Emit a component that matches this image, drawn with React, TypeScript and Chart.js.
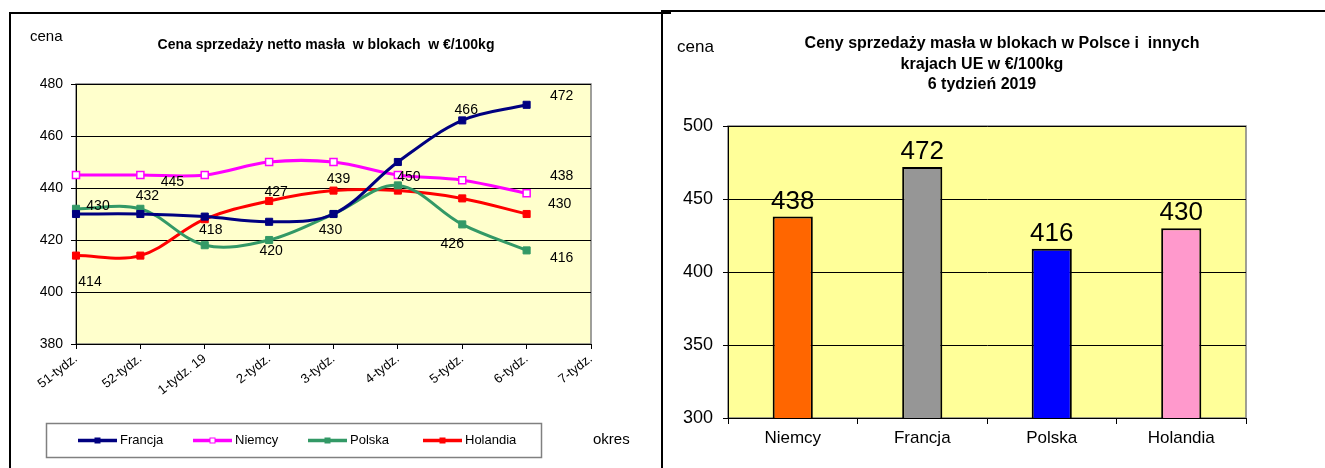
import React, { useEffect, useRef } from "react";
import { Chart, registerables } from "chart.js";

Chart.register(...registerables);
Chart.defaults.color = "#000";

const FONT = "'Liberation Sans', Arial, sans-serif";

// ---- Left chart data ----
const weeks = ["51-tydz.", "52-tydz.", "1-tydz. 19", "2-tydz.", "3-tydz.", "4-tydz.", "5-tydz.", "6-tydz.", "7-tydz."];
const seriesNames = ["Francja", "Niemcy", "Polska", "Holandia"];
const francja = [430, 430, 429, 427, 430, 450, 466, 472];
const niemcy = [445, 445, 445, 450, 450, 445, 443, 438];
const polska = [432, 432, 418, 420, 430, 441, 426, 416];
const holandia = [414, 414, 428, 435, 439, 439, 436, 430];
const lineYMin = 380;
const lineYMax = 480;
const lineYStep = 20;

// ---- Right chart data ----
const countries = ["Niemcy", "Francja", "Polska", "Holandia"];
const week6 = [438, 472, 416, 430];
const barYMin = 300;
const barYMax = 500;
const barYStep = 50;

// label placement (style): [pointIndex, dx, dy]
const lineLabelPlacement: Record<string, Array<[number, number, number]>> = {
  Francja: [[0, 22, -8], [3, 7, -30], [4, -3, 16], [5, 11, 15], [6, 4, -10], [7, 35, -9]],
  Niemcy: [[1, 32, 7], [7, 35, -17]],
  Polska: [[1, 7, -13], [2, 6, -15], [3, 2, 11], [6, -10, 20], [7, 35, 8]],
  Holandia: [[0, 14, 27], [4, 5, -11], [7, 33, -10]],
};

const plotBg = {
  id: "plotBg",
  beforeDraw(chart: any, _a: any, opts: any) {
    const { ctx, chartArea } = chart;
    const { left, top, right, bottom } = chartArea;
    ctx.save();
    ctx.fillStyle = opts.color;
    ctx.fillRect(left, top, right - left, bottom - top);
    ctx.strokeStyle = "#808080";
    ctx.lineWidth = 1.5;
    ctx.strokeRect(left, top, right - left, bottom - top);
    ctx.restore();
  },
};

const leftDecor = {
  id: "leftDecor",
  afterDatasetsDraw(chart: any) {
    const { ctx } = chart;
    ctx.save();
    ctx.fillStyle = "#000";
    ctx.textAlign = "center";
    ctx.textBaseline = "middle";
    chart.data.datasets.forEach((ds: any, di: number) => {
      const meta = chart.getDatasetMeta(di);
      const place = lineLabelPlacement[ds.label] || [];
      ctx.font = `14px ${FONT}`;
      place.forEach(([i, dx, dy]) => {
        const pt = meta.data[i];
        if (!pt) return;
        ctx.fillText(String(ds.data[i]), pt.x + dx, pt.y + dy);
      });
    });
    ctx.restore();
  },
  afterDraw(chart: any) {
    const { ctx } = chart;
    ctx.save();
    ctx.fillStyle = "#000";
    ctx.textBaseline = "middle";
    ctx.font = `15px ${FONT}`;
    ctx.textAlign = "left";
    ctx.fillText("cena", 30, 37);
    ctx.font = `bold 14px ${FONT}`;
    ctx.textAlign = "center";
    ctx.fillText("Cena sprzedaży netto masła  w blokach  w €/100kg", 326, 45);
    // legend box
    ctx.strokeStyle = "#808080";
    ctx.lineWidth = 1.5;
    ctx.strokeRect(46.5, 423.5, 495, 34);
    const ly = 440.5;
    chart.data.datasets.forEach((ds: any, i: number) => {
      const x0 = 78 + i * 115;
      ctx.strokeStyle = ds.borderColor;
      ctx.lineWidth = 3.5;
      ctx.beginPath();
      ctx.moveTo(x0, ly);
      ctx.lineTo(x0 + 39, ly);
      ctx.stroke();
      ctx.fillStyle = ds.pointBackgroundColor;
      ctx.strokeStyle = ds.borderColor;
      ctx.lineWidth = 1;
      ctx.fillRect(x0 + 17, ly - 2.5, 5, 5);
      ctx.strokeRect(x0 + 17, ly - 2.5, 5, 5);
      ctx.fillStyle = "#000";
      ctx.font = `13px ${FONT}`;
      ctx.textAlign = "left";
      ctx.fillText(ds.label, x0 + 42, ly);
    });
    ctx.font = `15px ${FONT}`;
    ctx.fillText("okres", 593, 440);
    ctx.restore();
  },
};

const rightDecor = {
  id: "rightDecor",
  afterDatasetsDraw(chart: any) {
    const { ctx } = chart;
    const meta = chart.getDatasetMeta(0);
    const ds = chart.data.datasets[0];
    ctx.save();
    ctx.fillStyle = "#000";
    ctx.textAlign = "center";
    ctx.textBaseline = "alphabetic";
    ctx.font = `26px ${FONT}`;
    meta.data.forEach((bar: any, i: number) => {
      ctx.fillText(String(ds.data[i]), bar.x, bar.y - 8);
    });
    ctx.restore();
  },
  afterDraw(chart: any) {
    const { ctx } = chart;
    ctx.save();
    ctx.fillStyle = "#000";
    ctx.textBaseline = "middle";
    ctx.textAlign = "left";
    ctx.font = `17px ${FONT}`;
    ctx.fillText("cena", 17, 47);
    ctx.font = `bold 16px ${FONT}`;
    ctx.textAlign = "center";
    ctx.fillText("Ceny sprzedaży masła w blokach w Polsce i  innych", 342, 44);
    ctx.fillText("krajach UE w €/100kg", 322, 65);
    ctx.fillText("6 tydzień 2019", 322, 85);
    ctx.restore();
  },
};

const seriesColors = ["#000080", "#FF00FF", "#339966", "#FF0000"];
const seriesData = [francja, niemcy, polska, holandia];

export default function App() {
  const leftRef = useRef<HTMLCanvasElement>(null);
  const rightRef = useRef<HTMLCanvasElement>(null);

  useEffect(() => {
    const lineChart = new Chart(leftRef.current as HTMLCanvasElement, {
      type: "line",
      data: {
        labels: weeks,
        datasets: seriesNames.map((name, i) => ({
          label: name,
          data: seriesData[i],
          borderColor: seriesColors[i],
          backgroundColor: seriesColors[i],
          pointBackgroundColor: name === "Niemcy" ? "#FFFFFF" : seriesColors[i],
          pointBorderColor: seriesColors[i],
          pointBorderWidth: name === "Niemcy" ? 1.5 : 1,
          pointStyle: "rect",
          pointRadius: 5,
          borderWidth: 3,
          tension: 0.35,
          fill: false,
        })),
      },
      options: {
        responsive: true,
        maintainAspectRatio: false,
        animation: false,
        layout: { padding: { left: 0, right: 69, top: 84, bottom: 0 } },
        plugins: {
          legend: { display: false },
          tooltip: { enabled: false },
          plotBg: { color: "#FFFFCC" },
        } as any,
        scales: {
          x: {
            offset: false,
            grid: { drawOnChartArea: false, color: "#000", tickLength: 5 },
            border: { color: "#000", width: 1 },
            ticks: { autoSkip: false, minRotation: 38, maxRotation: 38, padding: 2, color: "#000", font: { size: 13, family: FONT } },
            afterFit: (s: any) => { s.height = 124; },
          },
          y: {
            min: lineYMin,
            max: lineYMax,
            ticks: { stepSize: lineYStep, padding: 8, color: "#000", font: { size: 14, family: FONT } },
            grid: { color: "#000", tickLength: 5 },
            border: { color: "#000", width: 1 },
            afterFit: (s: any) => { s.width = 76; },
          },
        },
      },
      plugins: [plotBg, leftDecor],
    } as any);

    const barChart = new Chart(rightRef.current as HTMLCanvasElement, {
      type: "bar",
      data: {
        labels: countries,
        datasets: [
          {
            label: "6 tydzień 2019",
            data: week6,
            backgroundColor: ["#FF6600", "#969696", "#0000FF", "#FF99CC"],
            borderColor: "#000",
            borderWidth: 2,
            borderSkipped: false,
            barPercentage: 0.31,
            categoryPercentage: 1,
          },
        ],
      },
      options: {
        responsive: true,
        maintainAspectRatio: false,
        animation: false,
        layout: { padding: { left: 0, right: 79, top: 126, bottom: 0 } },
        plugins: {
          legend: { display: false },
          tooltip: { enabled: false },
          plotBg: { color: "#FFFF99" },
        } as any,
        scales: {
          x: {
            grid: { drawOnChartArea: false, offset: true, color: "#000", tickLength: 6 },
            border: { color: "#000", width: 1 },
            ticks: { padding: 4, color: "#000", font: { size: 17, family: FONT } },
            afterFit: (s: any) => { s.height = 50; },
          },
          y: {
            min: barYMin,
            max: barYMax,
            ticks: { stepSize: barYStep, padding: 10, color: "#000", font: { size: 18, family: FONT } },
            grid: { color: "#000", tickLength: 5 },
            border: { color: "#000", width: 1 },
            afterFit: (s: any) => { s.width = 68; },
          },
        },
      },
      plugins: [plotBg, rightDecor],
    } as any);

    return () => {
      lineChart.destroy();
      barChart.destroy();
    };
  }, []);

  return (
    <div style={{ position: "fixed", left: 0, top: 0, width: 1325, height: 468, background: "#fff", overflow: "hidden" }}>
      <div style={{ position: "absolute", left: 9, top: 12, width: 660, height: 480, borderTop: "2px solid #000", borderLeft: "2px solid #000" }} />
      <div style={{ position: "absolute", left: 661, top: 10, width: 680, height: 480, borderTop: "2px solid #000", borderLeft: "2px solid #000" }} />
      <div style={{ position: "absolute", left: 0, top: 0, width: 660, height: 468 }}>
        <canvas ref={leftRef} />
      </div>
      <div style={{ position: "absolute", left: 660, top: 0, width: 665, height: 468 }}>
        <canvas ref={rightRef} />
      </div>
    </div>
  );
}
